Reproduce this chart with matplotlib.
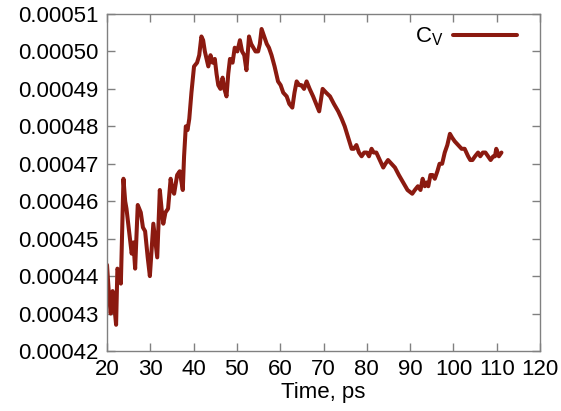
import numpy as np
import matplotlib
matplotlib.use("Agg")
import matplotlib.pyplot as plt

plt.rcParams['font.family'] = ['Liberation Sans', 'DejaVu Sans']
plt.rcParams['mathtext.fontset'] = 'custom'
plt.rcParams['mathtext.rm'] = 'Liberation Sans'

# Time (ps) and heat capacity C_V (stored in units of 1e-6)
time_ps = [
    20.0, 20.4, 20.85, 21.3, 21.7, 22.1, 22.4, 22.8, 23.2, 23.8,
    24.2, 24.5, 25.1, 25.7, 26.1, 26.5, 27.1, 27.8, 28.3, 28.8,
    29.4, 29.9, 30.3, 30.7, 31.2, 31.6, 32.2, 32.6, 33.0, 33.5,
    34.1, 34.7, 35.1, 35.5, 36.2, 36.8, 37.5, 37.8, 38.2, 38.6,
    39.0, 39.5, 40.1, 40.8, 41.3, 41.8, 42.2, 42.6, 43.0, 43.4,
    43.9, 44.4, 44.9, 45.3, 45.7, 46.2, 46.7, 47.1, 47.6, 48.0,
    48.4, 49.0, 49.5, 50.1, 50.7, 51.2, 51.7, 52.2, 52.8, 53.3,
    53.8, 54.3, 54.9, 55.3, 55.7, 56.3, 56.9, 57.4, 58.0, 58.7,
    59.5, 60.1, 60.7, 61.5, 62.1, 62.8, 63.3, 63.8, 64.4, 64.9,
    65.5, 66.1, 66.8, 67.6, 68.3, 69.0, 69.8, 70.6, 71.5, 72.4,
    73.4, 74.2, 74.9, 75.7, 76.5, 77.0, 77.6, 78.2, 78.8, 79.4,
    80.0, 80.5, 81.1, 81.6, 82.2, 83.0, 83.8, 84.3, 84.9, 85.7,
    86.5, 87.4, 88.4, 89.4, 90.5, 91.1, 91.8, 92.4, 92.9, 93.4,
    93.8, 94.2, 94.7, 95.2, 95.7, 96.3, 96.8, 97.4, 98.0, 98.6,
    99.2, 99.7, 100.3, 101.1, 101.9, 102.6, 103.4, 103.9, 104.4, 105.0,
    105.7, 106.2, 106.8, 107.4, 108.0, 108.6, 109.2, 109.6, 109.9, 110.5,
    111.1,
]
cv_micro = [
    443, 436, 430, 436, 432, 427, 442, 441, 438, 466,
    460, 458, 452, 446, 449, 442, 459, 457, 453, 452,
    445, 440, 447, 454, 449, 445, 463, 458, 454, 457,
    458, 466, 463, 462, 467, 468, 463, 472, 480, 479,
    482, 489, 496, 497, 499, 504, 503, 500, 498, 496,
    499, 497, 498, 494, 491, 490, 493, 490, 488, 494,
    498, 497, 501, 500, 503, 500, 499, 495, 504, 502,
    501, 500, 500, 502, 506, 504, 502, 501, 499, 496,
    492, 491, 489, 488, 486, 485, 489, 492, 491, 491,
    490, 492, 490, 488, 486, 484, 490, 489, 488, 486,
    484, 482, 480, 477, 474, 474, 475, 473, 472, 473,
    473, 472, 474, 473, 473, 471, 469, 470, 471, 470,
    469, 467, 465, 463, 462, 463, 464, 463, 466, 464,
    465, 464, 467, 467, 466, 468, 470, 470, 473, 475,
    478, 477, 476, 475, 474, 474, 472, 471, 471, 472,
    473, 472, 473, 473, 472, 471, 472, 472, 474, 472,
    473,
]
cv = np.array(cv_micro) * 1e-6

x_ticks = [20, 30, 40, 50, 60, 70, 80, 90, 100, 110, 120]
y_ticks = [0.00042, 0.00043, 0.00044, 0.00045, 0.00046,
           0.00047, 0.00048, 0.00049, 0.00050, 0.00051]

fig = plt.figure(figsize=(5.61, 4.11), dpi=100)
ax = fig.add_axes([107 / 561, 1 - 351 / 411, 433 / 561, 337 / 411])

line_color = '#8b1a10'
ax.plot(time_ps, cv, color=line_color, lw=2.9, label=r'C$_\mathregular{V}$',
        solid_joinstyle='round', solid_capstyle='round')

ax.set_xlim(20, 120)
ax.set_ylim(0.00042, 0.00051)
ax.set_xticks(x_ticks)
ax.set_yticks(y_ticks)
ax.set_yticklabels([f"{v:.5f}" for v in y_ticks])

frame_color = '#808080'
for s in ax.spines.values():
    s.set_color(frame_color)
    s.set_linewidth(1.0)
ax.tick_params(direction='in', length=6, width=1.0, color=frame_color,
               top=True, right=True, labelsize=16, labelcolor='black', pad=6)
ax.set_xlabel('Time, ps', fontsize=16, labelpad=1)

ax.legend(loc='upper right', bbox_to_anchor=(0.947, 0.965), frameon=False,
          markerfirst=False, handlelength=2.9, handletextpad=0.4,
          borderpad=0, borderaxespad=0, fontsize=16)

fig.savefig('out.png', dpi=100)
